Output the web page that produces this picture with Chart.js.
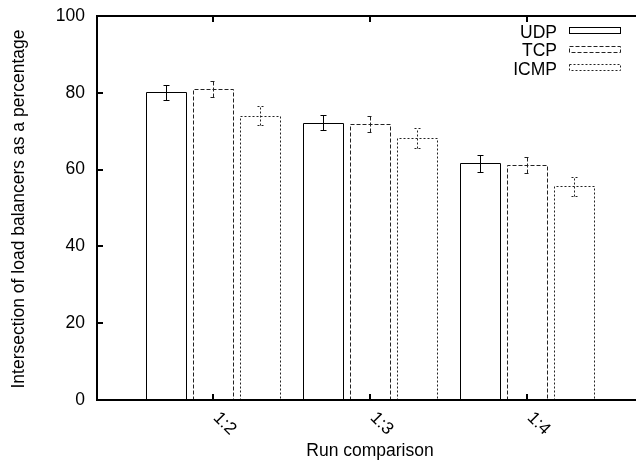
<!DOCTYPE html>
<html>
<head>
<meta charset="utf-8">
<script src="https://cdn.jsdelivr.net/npm/chart.js@4.4.1/dist/chart.umd.min.js"></script>
<style>
  html, body { margin: 0; padding: 0; background: #fff; }
</style>
</head>
<body>
<canvas id="runChart" width="636" height="463"></canvas>
<script>
  const categories = ["1:2", "1:3", "1:4"];
  const yTicks = [0, 20, 40, 60, 80, 100];

  const udpValues = [80.1, 72.2, 61.6];
  const udpErrors = [2.0, 2.0, 2.1];
  const tcpValues = [81.0, 71.9, 61.2];
  const tcpErrors = [2.0, 2.1, 2.0];
  const icmpValues = [74.0, 68.2, 55.7];
  const icmpErrors = [2.5, 2.6, 2.5];

  const FONT = "'Liberation Sans', Arial, Helvetica, sans-serif";
  Chart.defaults.font.family = FONT;
  Chart.defaults.font.size = 17.5;
  Chart.defaults.color = "#000";

  // categories sit at x = 1, 2, 3 on a linear axis
  const toPoints = (vals) => vals.map((v, i) => ({ x: i + 1, y: v }));

  function crisp(v) {
    return Math.round(v) + 0.5;
  }

  // gnuplot-like frame, outlined boxes with error bars, legend and texts
  const gnuplotLook = {
    id: "gnuplotLook",
    afterDatasetsDraw(chart) {
      const ctx = chart.ctx;
      const ys = chart.scales.y;
      ctx.save();
      chart.data.datasets.forEach((ds, di) => {
        const meta = chart.getDatasetMeta(di);
        ctx.strokeStyle = ds.lineColor;
        ctx.lineWidth = 1;
        ctx.setLineDash(ds.dash);
        meta.data.forEach((bar, i) => {
          const l = crisp(bar.x - bar.width / 2);
          const r = crisp(bar.x + bar.width / 2);
          const t = crisp(bar.y);
          const b = crisp(bar.base);
          ctx.beginPath();
          ctx.moveTo(l, b);
          ctx.lineTo(l, t);
          ctx.lineTo(r, t);
          ctx.lineTo(r, b);
          ctx.stroke();

          const v = ds.data[i].y;
          const e = ds.errors[i];
          const cx = crisp(bar.x);
          const hi = crisp(ys.getPixelForValue(v + e));
          const lo = crisp(ys.getPixelForValue(v - e));
          ctx.beginPath();
          ctx.moveTo(cx, lo);
          ctx.lineTo(cx, hi);
          ctx.moveTo(cx - 3, hi);
          ctx.lineTo(cx + 3, hi);
          ctx.moveTo(cx - 3, lo);
          ctx.lineTo(cx + 3, lo);
          ctx.stroke();
        });
      });
      ctx.restore();
    },
    afterDraw(chart) {
      const ctx = chart.ctx;
      const a = chart.chartArea;
      const xs = chart.scales.x;
      const ys = chart.scales.y;
      ctx.save();

      // frame (no right border, it runs off the canvas)
      ctx.strokeStyle = "#000";
      ctx.lineWidth = 2;
      ctx.beginPath();
      ctx.moveTo(a.right, a.top);
      ctx.lineTo(a.left, a.top);
      ctx.lineTo(a.left, a.bottom);
      ctx.lineTo(a.right, a.bottom);
      ctx.stroke();

      // inward tick marks
      ctx.lineWidth = 2;
      ctx.beginPath();
      yTicks.forEach((t) => {
        const py = Math.round(ys.getPixelForValue(t));
        ctx.moveTo(a.left, py);
        ctx.lineTo(a.left + 6, py);
      });
      categories.forEach((c, i) => {
        const px = Math.round(xs.getPixelForValue(i + 1));
        ctx.moveTo(px, a.bottom);
        ctx.lineTo(px, a.bottom - 6);
        ctx.moveTo(px, a.top);
        ctx.lineTo(px, a.top + 6);
      });
      ctx.stroke();

      // rotated category labels
      ctx.fillStyle = "#000";
      ctx.font = "17.5px " + FONT;
      ctx.textAlign = "left";
      ctx.textBaseline = "middle";
      categories.forEach((c, i) => {
        const px = xs.getPixelForValue(i + 1);
        ctx.save();
        ctx.translate(px + 3, a.bottom + 15);
        ctx.rotate(Math.PI / 4);
        ctx.fillText(c, 0, 0);
        ctx.restore();
      });

      // axis titles
      ctx.textAlign = "center";
      ctx.textBaseline = "alphabetic";
      ctx.fillText("Run comparison", 370, 456);
      ctx.save();
      ctx.translate(24, 209);
      ctx.rotate(-Math.PI / 2);
      ctx.fillText("Intersection of load balancers as a percentage", 0, 0);
      ctx.restore();

      // legend: label right-aligned, sample box on the right
      const rows = [30, 48.5, 67];
      chart.data.datasets.forEach((ds, di) => {
        const cy = rows[di];
        ctx.fillStyle = "#000";
        ctx.textAlign = "right";
        ctx.textBaseline = "alphabetic";
        ctx.fillText(ds.label, 557, cy + 7.5);
        ctx.strokeStyle = ds.lineColor;
        ctx.lineWidth = 1;
        ctx.setLineDash(ds.dash);
        ctx.strokeRect(569.5, Math.round(cy - 3) + 0.5, 51, 6);
        ctx.setLineDash([]);
      });

      ctx.restore();
    }
  };

  new Chart(document.getElementById("runChart"), {
    type: "bar",
    data: {
      datasets: [
        {
          label: "UDP",
          data: toPoints(udpValues),
          errors: udpErrors,
          dash: [],
          lineColor: "#000",
          backgroundColor: "rgba(0,0,0,0)",
          borderWidth: 0
        },
        {
          label: "TCP",
          data: toPoints(tcpValues),
          errors: tcpErrors,
          dash: [4, 2],
          lineColor: "#222",
          backgroundColor: "rgba(0,0,0,0)",
          borderWidth: 0
        },
        {
          label: "ICMP",
          data: toPoints(icmpValues),
          errors: icmpErrors,
          dash: [2, 2],
          lineColor: "#222",
          backgroundColor: "rgba(0,0,0,0)",
          borderWidth: 0
        }
      ]
    },
    options: {
      responsive: false,
      animation: false,
      layout: {
        padding: { top: 16, right: 0, left: 0, bottom: 0 }
      },
      categoryPercentage: 0.898,
      barPercentage: 0.851,
      scales: {
        x: {
          type: "linear",
          offset: false,
          min: 0.261,
          max: 3.694,
          afterBuildTicks: (scale) => {
            scale.ticks = categories.map((c, i) => ({ value: i + 1 }));
          },
          afterFit: (scale) => {
            scale.height = 63;
            scale.paddingLeft = 0;
            scale.paddingRight = 0;
          },
          ticks: { display: false },
          grid: { display: false, drawTicks: false, offset: false },
          border: { display: false }
        },
        y: {
          min: 0,
          max: 100,
          afterBuildTicks: (scale) => {
            scale.ticks = yTicks.map((v) => ({ value: v }));
          },
          afterFit: (scale) => {
            scale.width = 97;
            scale.paddingTop = 0;
            scale.paddingBottom = 0;
          },
          ticks: { padding: 12, color: "#000", font: { size: 17.5 } },
          grid: { display: false, drawTicks: false },
          border: { display: false }
        }
      },
      plugins: {
        legend: { display: false },
        tooltip: { enabled: false }
      }
    },
    plugins: [gnuplotLook]
  });
</script>
</body>
</html>
